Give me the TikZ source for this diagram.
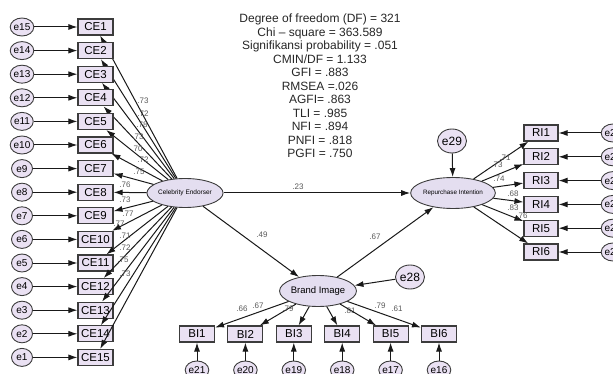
\documentclass[tikz,border=0pt]{standalone}
\usepackage{fontspec}
\setmainfont{Liberation Sans}
\usetikzlibrary{shapes.geometric,arrows.meta}

\definecolor{lav}{RGB}{234,225,243}
\definecolor{latfill}{RGB}{228,222,240}
\definecolor{edgegray}{RGB}{60,60,60}

\begin{document}
\begin{tikzpicture}[x=1pt,y=-1pt,
	obs/.style={draw=edgegray, line width=1.1pt, fill=lav, minimum width=35pt, minimum height=16pt, inner sep=0pt, font=\fontsize{11.5}{12}\selectfont},
	err/.style={draw=edgegray, ellipse, line width=0.9pt, fill=lav, minimum width=21pt, minimum height=18pt, inner sep=0pt, font=\fontsize{10}{10}\selectfont},
	bigerr/.style={err, minimum width=29pt, minimum height=24pt, font=\fontsize{12}{12}\selectfont},
	lat/.style={draw=edgegray, ellipse, line width=0.9pt, fill=latfill, inner sep=0pt},
	path/.style={-{Latex[length=9pt,width=6pt]}, line width=1pt, draw=black!90},
	est/.style={font=\fontsize{8}{8}\selectfont, text=black!65, inner sep=0pt}]

	\useasboundingbox (0,0) rectangle (613,374);

	% fit indices
	\node[align=center, font=\fontsize{12}{13.5}\selectfont, text=black!85] (fit) at (320,86) {Degree of freedom (DF) = 321\\ Chi – square = 363.589\\ Signifikansi probability = .051\\ CMIN/DF = 1.133\\ GFI = .883\\ RMSEA =.026\\ AGFI= .863\\ TLI = .985\\ NFI = .894\\ PNFI = .818\\ PGFI = .750};

	% latent variables
	\node[lat, minimum width=70pt, minimum height=29pt, font=\fontsize{6.5}{7}\selectfont] (CelEnd) at (185,193) {Celebrity Endorser};
	\node[lat, minimum width=66pt, minimum height=31pt, font=\fontsize{6.3}{7}\selectfont] (RepInt) at (453,193) {Repurchase Intention};
	\node[lat, minimum width=72pt, minimum height=31pt, font=\fontsize{9.5}{10}\selectfont] (BrImg) at (318,291) {Brand Image};
	\node[bigerr] (e29) at (452,141) {e29};
	\node[bigerr] (e28) at (410,277) {e28};

	% celebrity endorser indicators
	\foreach \i/\v/\lx/\ly in {1/.73/143/101, 2/.72/143/114, 3/.78/142/125, 4/.73/138/137, 5/.70/137/149, 6/.72/143/160, 7/.75/139/172, 8/.76/125/185, 9/.73/125/200, 10/.77/128/214, 11/.77/119/224, 12/.71/125/236, 13/.72/125/248, 14/.75/123/260, 15/.73/125/274} {
		\pgfmathsetmacro\yy{27+(\i-1)*23.6}
		\pgfmathtruncatemacro\ee{16-\i}
		\node[obs] (CE\i) at (95.5,\yy) {CE\i};
		\node[err] (e\ee) at (22,\yy) {e\ee};
		\draw[path] (e\ee) -- (CE\i);
		\draw[path] (CelEnd) -- (CE\i);
		\node[est] (lce\i) at (\lx,\ly) {\v};
	}

	% repurchase intention indicators
	\foreach \i/\v/\lx/\ly in {1/.71/505/158, 2/.73/497/165, 3/.74/499/179, 4/.68/513/194, 5/.83/513/208, 6/.76/522/216} {
		\pgfmathsetmacro\yy{133+(\i-1)*23.8}
		\pgfmathtruncatemacro\ee{21+\i}
		\node[obs, minimum width=34pt] (RI\i) at (541,\yy) {RI\i};
		\node[err] (e\ee) at (613,\yy) {e\ee};
		\draw[path] (e\ee) -- (RI\i);
		\draw[path] (RepInt) -- (RI\i);
		\node[est] (lri\i) at (\lx,\ly) {\v};
	}

	% brand image indicators
	\foreach \i/\v/\lx/\ly in {1/.66/242/309, 2/.67/258/306, 3/.79/288/309, 4/.81/350/311, 5/.79/380/306, 6/.61/397/309} {
		\pgfmathsetmacro\xx{197+(\i-1)*48.4}
		\pgfmathtruncatemacro\ee{22-\i}
		\node[obs] (BI\i) at (\xx,334) {BI\i};
		\node[err] (e\ee) at (\xx,370) {e\ee};
		\draw[path] (e\ee) -- (BI\i);
		\draw[path] (BrImg) -- (BI\i);
		\node[est] (lbi\i) at (\lx,\ly) {\v};
	}

	% structural paths
	\draw[path] (CelEnd) -- (RepInt);
	\draw[path] (CelEnd) -- (BrImg);
	\draw[path] (BrImg) -- (RepInt);
	\draw[path] (e29) -- (RepInt);
	\draw[path] (e28) -- (BrImg);
	\node[est] (l23) at (298,187) {.23};
	\node[est] (l49) at (262,235) {.49};
	\node[est] (l67) at (375,237) {.67};

\end{tikzpicture}
\end{document}
